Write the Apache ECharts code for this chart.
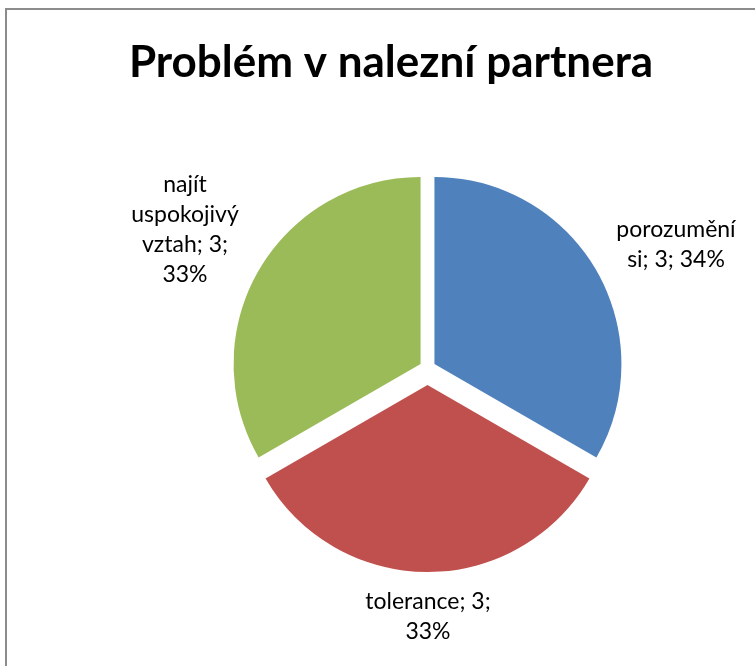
<!DOCTYPE html>
<html><head><meta charset="utf-8">
<script src="https://cdn.jsdelivr.net/npm/echarts@6/dist/echarts.min.js"></script>
<style>html,body{margin:0;padding:0;background:#fff}#c{width:755px;height:666px}</style>
</head><body><div id="c"></div><script>
const chartTitle = 'Problém v nalezní partnera';
const categories = ['porozumění si', 'tolerance', 'najít uspokojivý vztah'];
const values = [3, 3, 3];

const colors = ['#4F81BD', '#C0504D', '#9BBB59'];
const explode = [8, 17, 8];
const labelWidths = [145, 150, 120];
const labelPos = [[676, 245], [428, 617], [185, 230]];
const CX = 427.5, CY = 368, R = 187;
const LABEL_FONT = '23px Lato';

const total = values.reduce((a, b) => a + b, 0);
function midAngle(i) {
  let before = 0;
  for (let k = 0; k < i; k++) before += values[k];
  return (before + values[i] / 2) / total * 2 * Math.PI;
}

const measureCtx = document.createElement('canvas').getContext('2d');
function wrapText(text, maxW) {
  measureCtx.font = LABEL_FONT;
  const words = text.split(' ');
  const lines = [];
  let cur = '';
  words.forEach(w => {
    const test = cur ? cur + ' ' + w : w;
    if (cur && measureCtx.measureText(test).width > maxW) {
      lines.push(cur);
      cur = w;
    } else {
      cur = test;
    }
  });
  if (cur) lines.push(cur);
  return lines.join('\n');
}

const chart = echarts.init(document.getElementById('c'), null, {renderer: 'canvas'});

const series = categories.map((_, i) => {
  const a = midAngle(i);
  return {
    type: 'pie',
    center: [CX + explode[i] * Math.sin(a), CY - explode[i] * Math.cos(a)],
    radius: R,
    startAngle: 90,
    clockwise: true,
    percentPrecision: 0,
    avoidLabelOverlap: false,
    animation: false,
    silent: true,
    emphasis: {disabled: true},
    labelLine: {show: false},
    label: {
      position: 'outside',
      formatter: p => wrapText(p.name + '; ' + p.value + '; ' + p.percent + '%', labelWidths[i]),
      fontFamily: 'Lato',
      fontSize: 23,
      lineHeight: 30,
      color: '#000',
      align: 'center'
    },
    labelLayout: () => ({x: labelPos[i][0], y: labelPos[i][1], align: 'center', verticalAlign: 'middle'}),
    data: categories.map((name, j) => ({
      name: name,
      value: values[j],
      itemStyle: {color: j === i ? colors[j] : 'rgba(0,0,0,0)'},
      label: {show: j === i}
    }))
  };
});

chart.setOption({
  backgroundColor: '#fff',
  animation: false,
  title: {
    text: chartTitle,
    left: 386,
    textAlign: 'center',
    top: 36,
    textStyle: {fontFamily: 'Lato', fontWeight: 'bold', fontSize: 44, color: '#000'}
  },
  graphic: [{
    type: 'rect',
    shape: {x: 6, y: 9, width: 800, height: 700},
    style: {fill: 'none', stroke: '#8c8c8c', lineWidth: 2},
    silent: true
  }],
  series: series
});
</script></body></html>
